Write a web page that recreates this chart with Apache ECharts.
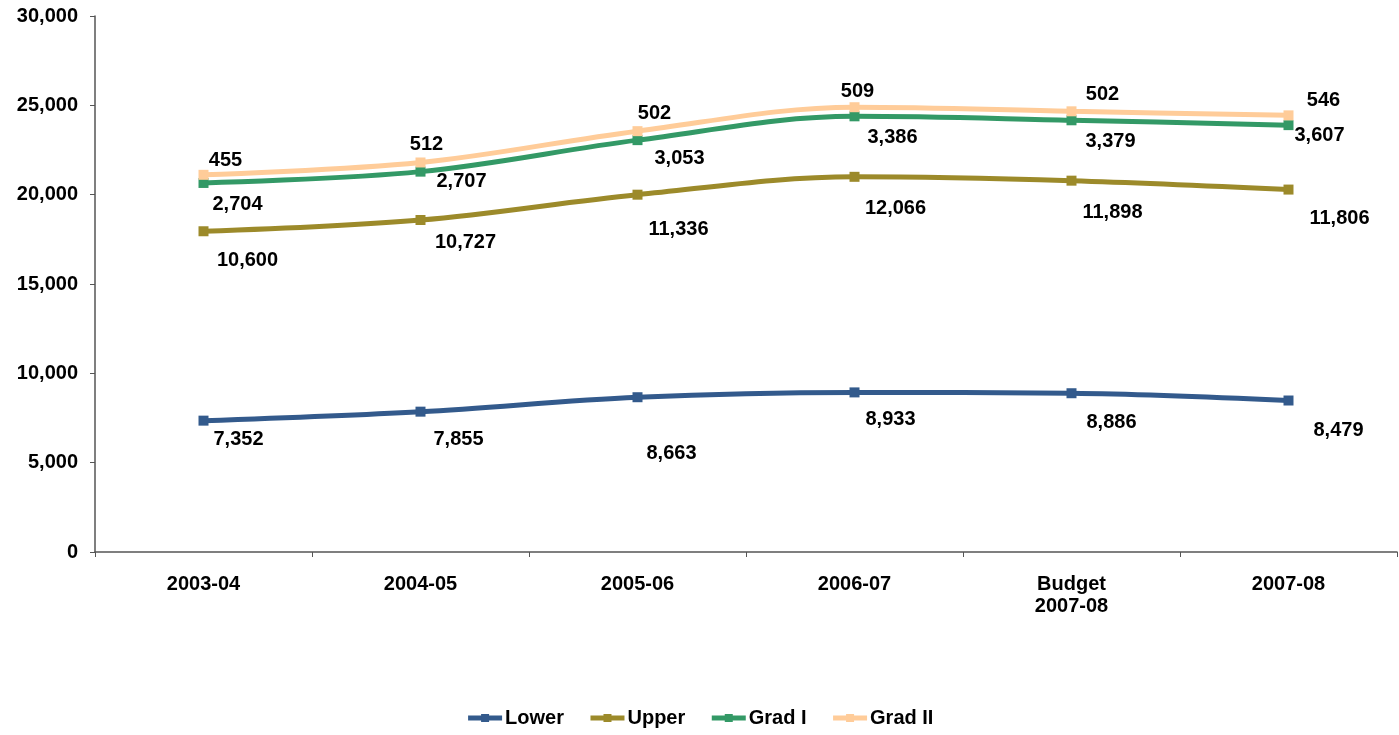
<!DOCTYPE html>
<html>
<head>
<meta charset="utf-8">
<script src="https://cdn.jsdelivr.net/npm/echarts@6/dist/echarts.min.js"></script>
<style>html,body{margin:0;padding:0;background:#fff;}#c{width:1399px;height:735px;}</style>
</head>
<body>
<div id="c"></div>
<script>
const categories = ['2003-04', '2004-05', '2005-06', '2006-07', 'Budget\n2007-08', '2007-08'];
const lower = [7352, 7855, 8663, 8933, 8886, 8479];
const upper = [10600, 10727, 11336, 12066, 11898, 11806];
const gradI = [2704, 2707, 3053, 3386, 3379, 3607];
const gradII = [455, 512, 502, 509, 502, 546];
const yTicks = { min: 0, max: 30000, interval: 5000 };

// label placement offsets (relative to the point), kept separate from data
const lowerOff = [[35,19],[38,28],[34,56],[36,27],[40,29],[50,30]];
const upperOff = [[44,29],[45,22],[41,35],[41,32],[41,32],[51,29]];
const gradIOff = [[34,22],[41,10],[42,18],[38,21],[39,21],[31,10]];
const gradIIOff = [[22,-14],[6,-18],[17,-18],[3,-16],[31,-17],[35,-15]];

const font = 'Liberation Sans, Arial, sans-serif';
function mk(name, vals, offs, color, z) {
  return {
    name: name, type: 'line', stack: 'total', smooth: 0.35,
    symbol: 'rect', symbolSize: 10, z: z,
    lineStyle: { width: 5, color: color },
    itemStyle: { color: color },
    data: vals.map((v, i) => ({
      value: v,
      label: { offset: offs[i] }
    })),
    label: {
      show: true, position: 'inside', color: '#000', fontWeight: 'bold',
      fontSize: 20, fontFamily: font,
      formatter: p => p.value.toLocaleString('en-US')
    }
  };
}
const chart = echarts.init(document.getElementById('c'));
chart.setOption({
  animation: false,
  grid: { left: 95, right: 2, top: 16, bottom: 183 },
  legend: {
    bottom: 2, left: 'center', itemWidth: 34, itemHeight: 10, itemGap: 24,
    lineStyle: { width: 5 },
    textStyle: { fontWeight: 'bold', fontSize: 20, fontFamily: font, color: '#000', padding: [0, 0, 0, -2] },
    data: ['Lower', 'Upper', 'Grad I', 'Grad II']
  },
  xAxis: {
    type: 'category', data: categories, boundaryGap: true,
    axisLine: { lineStyle: { color: '#555', width: 1.5 } },
    axisTick: { show: true, length: 5, lineStyle: { color: '#555' } },
    axisLabel: { color: '#000', fontWeight: 'bold', fontSize: 20, fontFamily: font, margin: 21, lineHeight: 22 }
  },
  yAxis: {
    type: 'value', min: yTicks.min, max: yTicks.max, interval: yTicks.interval,
    axisLine: { show: true, lineStyle: { color: '#555', width: 1.5 } },
    axisTick: { show: true, length: 5, lineStyle: { color: '#555' } },
    splitLine: { show: false },
    axisLabel: { color: '#000', fontWeight: 'bold', fontSize: 20, fontFamily: font, margin: 17,
      formatter: v => v.toLocaleString('en-US') }
  },
  series: [
    mk('Lower', lower, lowerOff, '#335A8C', 3),
    mk('Upper', upper, upperOff, '#9C8A2A', 4),
    mk('Grad I', gradI, gradIOff, '#339966', 5),
    mk('Grad II', gradII, gradIIOff, '#FFCC99', 6)
  ]
});
</script>
</body>
</html>
